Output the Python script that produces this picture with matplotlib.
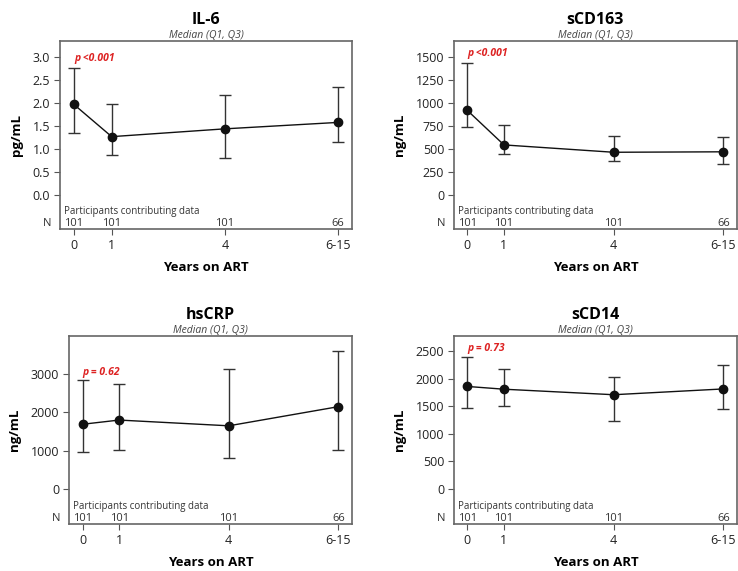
import numpy as np
import matplotlib.pyplot as plt

plt.rcParams['font.family'] = ['Open Sans', 'DejaVu Sans']

# Data
years = [0, 1, 4, 7]
year_labels = ['0', '1', '4', '6-15']
n_counts = ['101', '101', '101', '66']

il6_med = [1.97, 1.27, 1.44, 1.58]
il6_q1 = [1.36, 0.88, 0.80, 1.15]
il6_q3 = [2.76, 1.99, 2.18, 2.36]

scd163_med = [920, 545, 465, 470]
scd163_q1 = [740, 445, 370, 335]
scd163_q3 = [1435, 765, 645, 630]

hscrp_med = [1690, 1800, 1650, 2150]
hscrp_q1 = [970, 1030, 800, 1010]
hscrp_q3 = [2840, 2750, 3120, 3600]

scd14_med = [1860, 1810, 1710, 1815]
scd14_q1 = [1470, 1505, 1235, 1455]
scd14_q3 = [2390, 2170, 2035, 2240]

panels = [
    dict(title='IL-6', ylabel='pg/mL', med=il6_med, q1=il6_q1, q3=il6_q3,
         yticks=[0, 0.5, 1.0, 1.5, 2.0, 2.5, 3.0], fmt='{:.1f}',
         ylim=(-0.74, 3.35), ptext='p <0.001', py=2.98,
         pos=[0.0813, 0.599, 0.3957, 0.329]),
    dict(title='sCD163', ylabel='ng/mL', med=scd163_med, q1=scd163_q1, q3=scd163_q3,
         yticks=[0, 250, 500, 750, 1000, 1250, 1500], fmt='{:.0f}',
         ylim=(-370, 1675), ptext='p <0.001', py=1540,
         pos=[0.615, 0.599, 0.3835, 0.329]),
    dict(title='hsCRP', ylabel='ng/mL', med=hscrp_med, q1=hscrp_q1, q3=hscrp_q3,
         yticks=[0, 1000, 2000, 3000], fmt='{:.0f}',
         ylim=(-913, 3990), ptext='p = 0.62', py=3030,
         pos=[0.0935, 0.0823, 0.3835, 0.329]),
    dict(title='sCD14', ylabel='ng/mL', med=scd14_med, q1=scd14_q1, q3=scd14_q3,
         yticks=[0, 500, 1000, 1500, 2000, 2500], fmt='{:.0f}',
         ylim=(-634, 2772), ptext='p = 0.73', py=2540,
         pos=[0.615, 0.0823, 0.3835, 0.329]),
]

fig = plt.figure(figsize=(7.38, 5.71), dpi=100)

for p in panels:
    ax = fig.add_axes(p['pos'])
    med = np.array(p['med'])
    lo = med - np.array(p['q1'])
    hi = np.array(p['q3']) - med
    ax.errorbar(years, med, yerr=[lo, hi], fmt='o-', color='#111111',
                ecolor='#333333', elinewidth=1.0, capsize=4, capthick=1.0,
                markersize=6, linewidth=1.0)
    ax.set_xlim(-0.37, 7.37)
    ax.set_ylim(*p['ylim'])
    ax.set_yticks(p['yticks'])
    ax.set_yticklabels([p['fmt'].format(v) for v in p['yticks']], fontsize=9, color='#222222')
    ax.set_xticks(years)
    ax.set_xticklabels(year_labels, fontsize=9, color='#222222')
    ax.tick_params(axis='both', direction='out', length=4, width=0.8, color='#555555', pad=3)
    for s in ax.spines.values():
        s.set_color('#666666')
        s.set_linewidth(1.2)
    ax.set_ylabel(p['ylabel'], fontsize=9.5, fontweight='bold', labelpad=7)
    ax.set_xlabel('Years on ART', fontsize=9.5, fontweight='bold', labelpad=7)
    ax.text(0.5, 1.072, p['title'], transform=ax.transAxes, ha='center', va='bottom',
            fontsize=11.5, fontweight='bold')
    ax.text(0.5, 1.003, 'Median (Q1, Q3)', transform=ax.transAxes, ha='center', va='bottom',
            fontsize=7.5, style='italic', color='#444444')
    ax.text(0, p['py'], p['ptext'], ha='left', va='center', fontsize=7.5,
            fontweight='bold', style='italic', color='#dd2222')
    # participants row
    ax.text(0.015, 0.095, 'Participants contributing data', transform=ax.transAxes,
            ha='left', va='center', fontsize=7, color='#333333')
    for x, n in zip(years, n_counts):
        ax.text(x, 0.027, n, transform=ax.get_xaxis_transform(), ha='center',
                va='center', fontsize=8, color='#333333')
    ax.text(-0.045, 0.027, 'N', transform=ax.transAxes, ha='center', va='center',
            fontsize=8, color='#333333')

fig.savefig('out.png', dpi=100)
